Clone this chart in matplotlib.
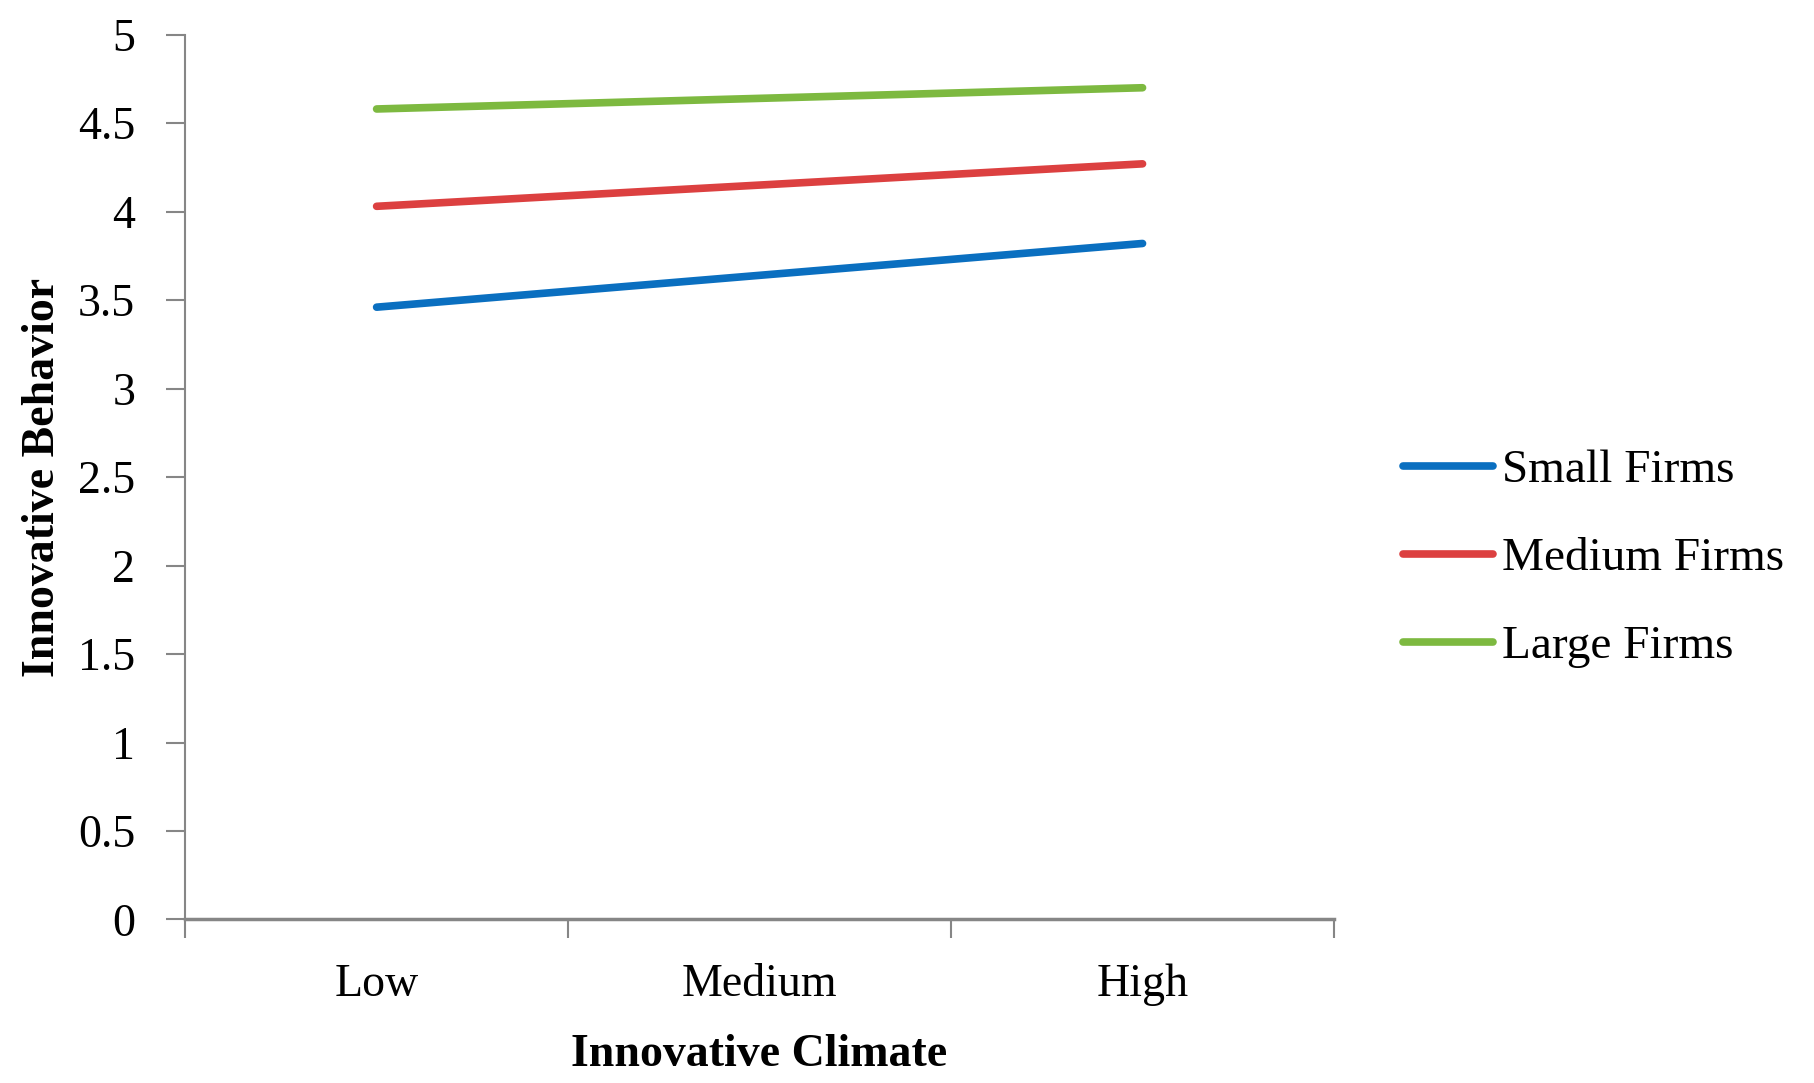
import matplotlib
matplotlib.use("Agg")
import matplotlib.pyplot as plt
from matplotlib.ticker import FixedLocator, NullFormatter, FixedFormatter

# ---- data ----
categories = ["Low", "Medium", "High"]
small_firms = [3.46, 3.64, 3.82]
medium_firms = [4.03, 4.15, 4.27]
large_firms = [4.58, 4.64, 4.70]
y_ticks = [0, 0.5, 1, 1.5, 2, 2.5, 3, 3.5, 4, 4.5, 5]
y_tick_labels = ["0", "0.5", "1", "1.5", "2", "2.5", "3", "3.5", "4", "4.5", "5"]

series = [
    ("Small Firms", small_firms, "#0A6FC0"),
    ("Medium Firms", medium_firms, "#DC4040"),
    ("Large Firms", large_firms, "#7DB940"),
]

plt.rcParams["font.family"] = ["Liberation Serif", "DejaVu Serif"]
FS = 33
GRAY = "#868686"

fig = plt.figure(figsize=(18.15, 10.83), dpi=100)
ax = fig.add_axes([0.102, 0.151, 0.633, 0.817])

x = list(range(len(categories)))
for name, vals, col in series:
    ax.plot(x, vals, color=col, lw=5.5, solid_capstyle="round", label=name)

ax.set_xlim(-0.5, len(categories) - 0.5)
ax.set_ylim(0, 5)

# category boundaries as tick marks, labels in between
ax.xaxis.set_major_locator(FixedLocator([i - 0.5 for i in range(len(categories) + 1)]))
ax.xaxis.set_major_formatter(NullFormatter())
ax.xaxis.set_minor_locator(FixedLocator(x))
ax.xaxis.set_minor_formatter(FixedFormatter(categories))
ax.tick_params(axis="x", which="major", direction="out", length=14, width=1.5, color=GRAY)
ax.tick_params(axis="x", which="minor", length=0, pad=32, labelsize=FS)

ax.set_yticks(y_ticks)
ax.set_yticklabels(y_tick_labels)
ax.tick_params(axis="y", direction="out", length=14, width=1.5, color=GRAY, pad=22, labelsize=FS)

for side in ["top", "right"]:
    ax.spines[side].set_visible(False)
ax.spines["left"].set_color(GRAY)
ax.spines["left"].set_linewidth(1.5)
ax.spines["bottom"].set_color(GRAY)
ax.spines["bottom"].set_linewidth(2.5)

ax.set_xlabel("Innovative Climate", fontsize=FS, fontweight="bold", labelpad=20)
ax.set_ylabel("Innovative Behavior", fontsize=FS, fontweight="bold", labelpad=10)

fig.legend(loc="center left", bbox_to_anchor=(0.773, 0.484), frameon=False,
           fontsize=34, handlelength=1.9, handletextpad=0.2, labelspacing=0.95,
           borderpad=0, borderaxespad=0)

fig.savefig("out.png", dpi=100)
plt.close(fig)
